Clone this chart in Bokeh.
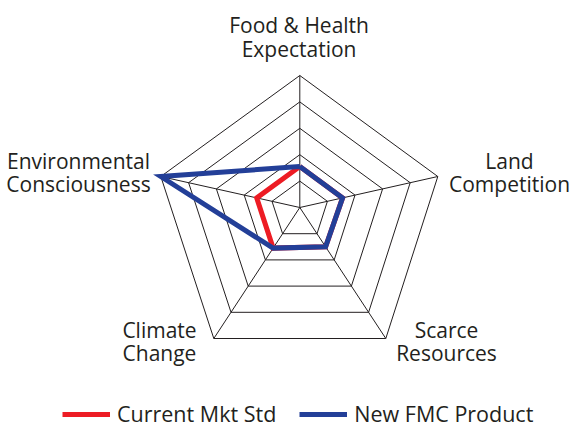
from bokeh.plotting import figure
from bokeh.models import Range1d, Legend, LegendItem
from bokeh.core.properties import value
from bokeh.embed import file_html
from bokeh.resources import INLINE

# ---------------- data ----------------
categories = ["Food & Health\nExpectation", "Land\nCompetition", "Scarce\nResources",
              "Climate\nChange", "Environmental\nConsciousness"]
current_mkt_std = [1.55, 1.55, 1.5, 1.55, 1.55]
new_fmc_product = [1.55, 1.55, 1.5, 1.55, 5.0]
levels = [1, 2, 3, 4, 5]
series_names = ["Current Mkt Std", "New FMC Product"]

# ---------------- layout ----------------
CX, CY = 299.3, 207.0                     # spoke hub (pixel space of the picture)
SPOKE = [(0, -132), (138, -31), (86, 131), (-86, 131), (-139, -31)]  # offset at max level
MAXV = 5.0
LABEL_POS = [(298.6, 36.5), (509, 172), (446, 341), (159, 341), (78, 172)]
GRID = "#231F20"
RED = "#ED1C24"
BLUE = "#233F98"
FONT = "Open Sans"


def to_xy(vals):
    xs = [CX + d[0] * v / MAXV for d, v in zip(SPOKE, vals)]
    ys = [CY + d[1] * v / MAXV for d, v in zip(SPOKE, vals)]
    return xs + xs[:1], ys + ys[:1]


p = figure(width=571, height=427, output_backend="svg", toolbar_location=None,
           x_range=Range1d(0, 571), y_range=Range1d(427, 0),
           min_border=0, outline_line_color=None)
p.axis.visible = False
p.grid.visible = False
p.background_fill_color = "white"

# rings
for lv in levels:
    xs, ys = to_xy([lv] * len(categories))
    p.line(xs, ys, line_color=GRID, line_width=1, line_join="miter")

# spokes
ox, oy = to_xy([MAXV] * len(categories))
p.segment(x0=[CX] * len(categories), y0=[CY] * len(categories), x1=ox[:-1], y1=oy[:-1],
          line_color=GRID, line_width=1)

# series
xs, ys = to_xy(current_mkt_std)
r_red = p.line(xs, ys, line_color=RED, line_width=5, line_join="miter")
xs, ys = to_xy(new_fmc_product)
r_blue = p.line(xs, ys, line_color=BLUE, line_width=5, line_join="miter")

# category labels
p.text(x=[q[0] for q in LABEL_POS], y=[q[1] for q in LABEL_POS], text=categories,
       text_font=value(FONT), text_font_size="21px", text_color=GRID,
       text_align="center", text_baseline="middle", text_line_height=0.84)

legend = Legend(items=[LegendItem(label=series_names[0], renderers=[r_red]),
                       LegendItem(label=series_names[1], renderers=[r_blue])],
                orientation="horizontal", location=(62, -1),
                glyph_width=48, glyph_height=20, label_standoff=7, spacing=23,
                padding=0, margin=0, border_line_color=None, background_fill_alpha=0,
                label_text_font=FONT, label_text_font_size="21.5px", label_text_color=GRID,
                label_height=20)
p.add_layout(legend)

open("out.html", "w").write(file_html(p, INLINE))
